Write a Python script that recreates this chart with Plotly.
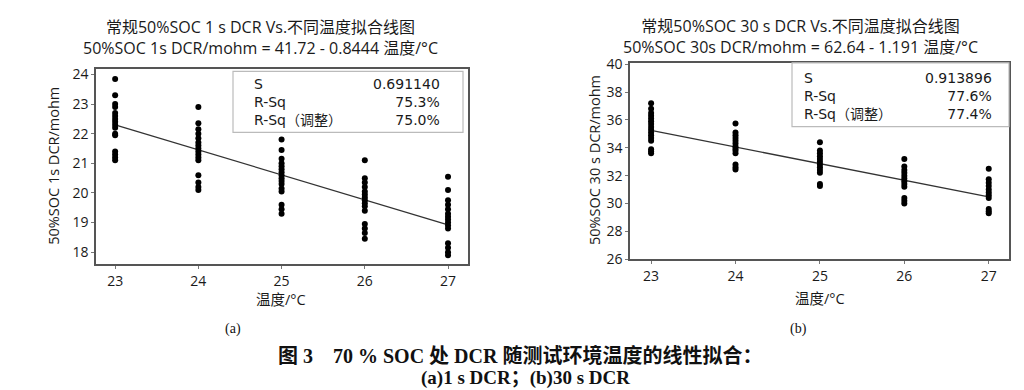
import plotly.graph_objects as go

# ---------------- data ----------------
temps = [23, 24, 25, 26, 27]

dcr1s_23 = [23.85, 23.3, 23.0, 22.9, 22.7, 22.6, 22.5, 22.4, 22.3, 22.2, 22.0, 21.95, 21.4, 21.3, 21.2, 21.1]
dcr1s_24 = [22.9, 22.35, 22.15, 22.0, 21.85, 21.7, 21.6, 21.5, 21.4, 21.3, 21.2, 21.1, 20.6, 20.35, 20.2, 20.1]
dcr1s_25 = [21.8, 21.45, 21.15, 21.0, 20.9, 20.8, 20.7, 20.6, 20.5, 20.4, 20.3, 20.15, 20.05, 19.6, 19.45, 19.3]
dcr1s_26 = [21.1, 20.5, 20.35, 20.2, 20.05, 19.95, 19.85, 19.75, 19.65, 19.55, 19.4, 18.95, 18.8, 18.65, 18.45]
dcr1s_27 = [20.55, 20.1, 19.75, 19.6, 19.45, 19.3, 19.2, 19.1, 19.0, 18.9, 18.8, 18.3, 18.15, 18.0, 17.9]

dcr30s_23 = [37.2, 36.8, 36.5, 36.3, 36.1, 35.9, 35.7, 35.5, 35.3, 35.1, 34.9, 34.7, 34.5, 33.9, 33.75, 33.6]
dcr30s_24 = [35.75, 35.1, 34.9, 34.7, 34.5, 34.3, 34.1, 33.95, 33.8, 33.6, 32.8, 32.6, 32.45]
dcr30s_25 = [34.4, 33.8, 33.6, 33.4, 33.2, 33.0, 32.8, 32.6, 32.4, 32.2, 31.4, 31.25]
dcr30s_26 = [33.2, 32.65, 32.4, 32.2, 32.0, 31.8, 31.6, 31.4, 31.2, 30.4, 30.2, 30.0]
dcr30s_27 = [32.5, 31.75, 31.5, 31.25, 31.0, 30.8, 30.6, 30.4, 29.6, 29.45, 29.3]

fit1s = (41.72, -0.8444)
fit30s = (62.64, -1.191)

stats_labels = ["S", "R-Sq", "R-Sq（调整）"]
stats1s = ["0.691140", "75.3%", "75.0%"]
stats30s = ["0.913896", "77.6%", "77.4%"]

title1s = ["常规50%SOC 1 s DCR Vs.不同温度拟合线图", "50%SOC 1s DCR/mohm = 41.72 - 0.8444 温度/°C"]
title30s = ["常规50%SOC 30 s DCR Vs.不同温度拟合线图", "50%SOC 30s DCR/mohm = 62.64 - 1.191 温度/°C"]
xlabel = "温度/°C"
ylabel1s = "50%SOC 1s DCR/mohm"
ylabel30s = "50%SOC 30 s DCR/mohm"
cap_a = "(a)"
cap_b = "(b)"
caption1 = "图 3　70 % SOC 处 DCR 随测试环境温度的线性拟合："
caption2 = "(a)1 s DCR；(b)30 s DCR"

# ---------------- figure ----------------
W, H = 1024, 390
SANS = "Open Sans, Noto Sans CJK SC, sans-serif"
STATS_FONT = "DejaVu Sans, Noto Sans CJK SC, sans-serif"
SERIF = "Liberation Serif, Noto Sans CJK SC, serif"
TXT = "#1a1a1a"

def px(x):
    return x / W

def py(y):
    return 1 - y / H

fig = go.Figure()

groups1 = [dcr1s_23, dcr1s_24, dcr1s_25, dcr1s_26, dcr1s_27]
groups30 = [dcr30s_23, dcr30s_24, dcr30s_25, dcr30s_26, dcr30s_27]

def add_panel(groups, fit, xa, ya):
    xs, ys = [], []
    for t, g in zip(temps, groups):
        xs += [t] * len(g)
        ys += g
    fig.add_trace(go.Scatter(x=[temps[0], temps[-1]],
                             y=[fit[0] + fit[1] * temps[0], fit[0] + fit[1] * temps[-1]],
                             mode="lines", line=dict(color="#333333", width=1.3),
                             xaxis=xa, yaxis=ya, showlegend=False, hoverinfo="skip"))
    fig.add_trace(go.Scatter(x=xs, y=ys, mode="markers",
                             marker=dict(color="black", size=6),
                             xaxis=xa, yaxis=ya, showlegend=False))

add_panel(groups1, fit1s, "x", "y")
add_panel(groups30, fit30s, "x2", "y2")

axis_common = dict(showgrid=False, zeroline=False, showline=True, mirror=True,
                   linecolor="#555555", linewidth=1.5, ticks="outside", ticklen=3,
                   tickcolor="#777777", tickfont=dict(family=SANS, size=14, color=TXT))

fig.update_layout(
    width=W, height=H, margin=dict(l=0, r=0, t=0, b=0),
    paper_bgcolor="white", plot_bgcolor="white",
    xaxis=dict(domain=[px(88), px(460)], range=[22.77, 27.24], tickvals=temps, anchor="y", **axis_common),
    yaxis=dict(domain=[py(259), py(54)], range=[17.6, 24.2], dtick=1, anchor="x", **axis_common),
    xaxis2=dict(domain=[px(622), px(1001)], range=[22.75, 27.24], tickvals=temps, anchor="y2", **axis_common),
    yaxis2=dict(domain=[py(254), py(48)], range=[26, 40.1], dtick=2, anchor="x2", **axis_common),
)

ann = []
def add_text(x, y, text, size=13, family=SANS, xanchor="center", angle=0, color=TXT, align="center"):
    ann.append(dict(x=px(x), y=py(y), xref="paper", yref="paper", text=text, showarrow=False,
                    xanchor=xanchor, yanchor="middle", textangle=angle, align=align,
                    font=dict(family=family, size=size, color=color)))

# titles (two lines each, one text block)
add_text(252, 22, "<br>".join(title1s), size=16)
add_text(792, 20, "<br>".join(title30s), size=16)
# axis titles
add_text(273, 296, xlabel, size=14.5)
add_text(812, 295, xlabel, size=14.5)
add_text(46, 156, ylabel1s, size=14.5, angle=-90)
add_text(586, 150, ylabel30s, size=14.5, angle=-90)

# stats boxes
shapes = []
def stats_box(x0, y0, x1, y1, labx, valx, ymid, vals):
    shapes.append(dict(type="rect", xref="paper", yref="paper",
                       x0=px(x0), x1=px(x1), y0=py(y1), y1=py(y0),
                       line=dict(color="#bbbbbb", width=1.2), fillcolor="white", layer="above"))
    add_text(labx, ymid, "<br>".join(stats_labels), size=14, family=STATS_FONT,
             xanchor="left", align="left")
    add_text(valx, ymid, "<br>".join(vals), size=14, family=STATS_FONT,
             xanchor="right", align="right")

stats_box(225, 57, 455, 121, 244, 434, 89, stats1s)
stats_box(784, 48, 1001, 115, 794, 986, 83, stats30s)

# captions
add_text(225, 327, cap_a, size=14, family=SERIF, color="#111111")
add_text(790, 327, cap_b, size=14, family=SERIF, color="#111111")
add_text(512, 355, "<b>" + caption1 + "</b>", size=20, family=SERIF, color="#111111")
add_text(517, 378, "<b>" + caption2 + "</b>", size=19, family=SERIF, color="#111111")

fig.update_layout(annotations=ann, shapes=shapes)

fig.write_html("out.html")
